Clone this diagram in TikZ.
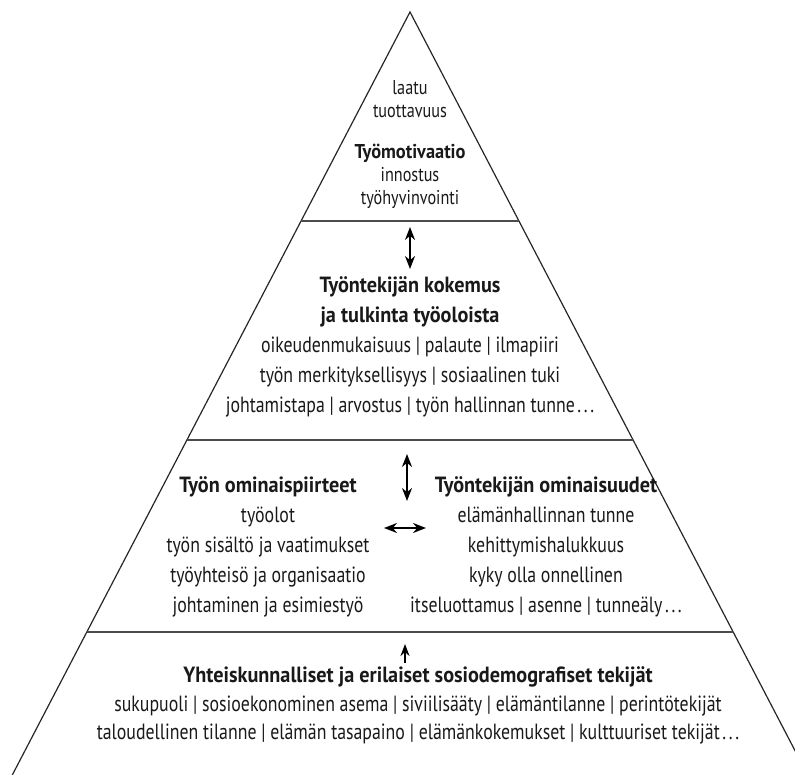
\documentclass[tikz,border=0pt]{standalone}
\usepackage{fontspec}
\setmainfont{PT Sans}[UprightFeatures={FakeStretch=0.81}, BoldFeatures={FakeStretch=0.92}]
\usetikzlibrary{arrows.meta,calc}
\tikzstyle{dblarrow} = [line width=1pt,{Stealth[length=6.5pt,width=5pt]}-{Stealth[length=6.5pt,width=5pt]}]
\tikzstyle{uparrow} = [line width=1pt,-{Stealth[length=6pt,width=4.5pt]}]
\tikzstyle{tier} = [draw=black!70, line width=0.9pt]
\tikzstyle{side} = [draw=black!85, line width=0.6pt]
\newcommand{\jatkuu}{\hspace{0.12em}.\hspace{0.12em}.\hspace{0.12em}.}

\begin{document}
\begin{tikzpicture}[
        x=0.5pt, y=-0.5pt,
        every node/.style={align=center, font=\fontsize{11}{15}\selectfont, inner sep=0pt, outer sep=0pt, text=black!90},
        small/.style={font=\fontsize{10}{11.5}\selectfont}
        ]
    \path[use as bounding box, clip] (0,0) rectangle (795,774);

    % pyramid
    \coordinate (apex) at (410,12);
    \coordinate (bl) at (-7,812);
    \coordinate (br) at (827,812);
    \draw[side] (bl) -- (apex) -- (br);
    \foreach \t/\n in {0.261/a, 0.535/b, 0.775/c} {
        \coordinate (l\n) at ($(apex)!\t!(bl)$);
        \coordinate (r\n) at ($(apex)!\t!(br)$);
        \draw[tier] (l\n) -- (r\n);
    }

    % top
    \node[small, anchor=north] (laatu) at (410,81) {laatu\\tuottavuus};
    \node[small, anchor=north] (motivaatio) at (410,144) {\textbf{Työmotivaatio}\\innostus\\työhyvinvointi};

    % kokemus
    \node[anchor=north] (kokemus) at (410,277) {\textbf{Työntekijän kokemus}\\\textbf{ja tulkinta työoloista}\\
        oikeudenmukaisuus | palaute | ilmapiiri\\
        työn merkityksellisyys | sosiaalinen tuki\\
        johtamistapa | arvostus | työn hallinnan tunne\jatkuu};

    % ominaisuudet
    \node[anchor=north] (tyo) at (268,477) {\textbf{Työn ominaispiirteet}\\työolot\\työn sisältö ja vaatimukset\\
        työyhteisö ja organisaatio\\johtaminen ja esimiestyö};
    \node[anchor=north] (tekija) at (546,477) {\textbf{Työntekijän ominaisuudet}\\elämänhallinnan tunne\\kehittymishalukkuus\\
        kyky olla onnellinen\\itseluottamus | asenne | tunneäly\jatkuu};

    % tausta
    \node[anchor=north, font=\fontsize{11}{14.25}\selectfont] (tausta) at (418,667) {\textbf{Yhteiskunnalliset ja erilaiset sosiodemografiset tekijät}\\
        sukupuoli | sosioekonominen asema | siviilisääty | elämäntilanne | perintötekijät\\
        taloudellinen tilanne | elämän tasapaino | elämänkokemukset | kulttuuriset tekijät\jatkuu};

    % arrows
    \coordinate (a1) at (410,227);
    \coordinate (a2) at (410,269);
    \coordinate (b1) at (407,454);
    \coordinate (b2) at (407,501);
    \coordinate (h1) at (384,528);
    \coordinate (h2) at (426,528);
    \coordinate (u1) at (405,663);
    \coordinate (u2) at (405,644);
    \draw[dblarrow] (a1) -- (a2);
    \draw[dblarrow] (b1) -- (b2);
    \draw[dblarrow] (h1) -- (h2);
    \draw[uparrow] (u1) -- (u2);
\end{tikzpicture}
\end{document}
